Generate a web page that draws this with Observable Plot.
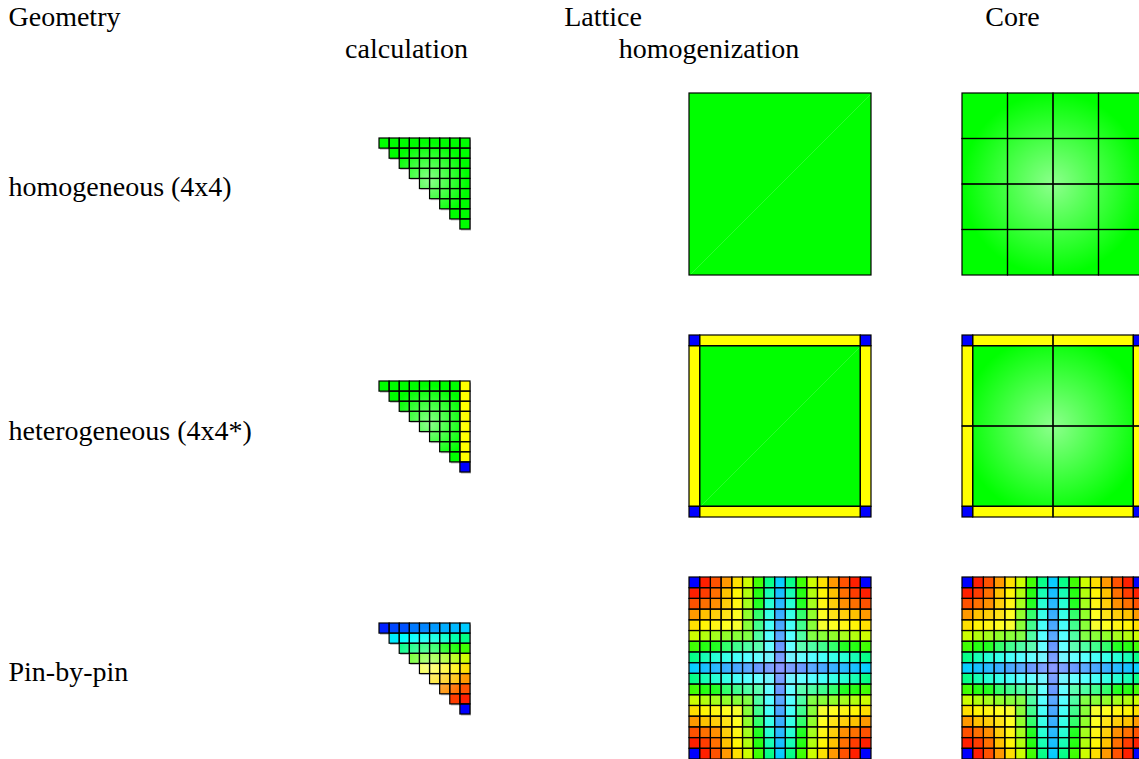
<!DOCTYPE html>
<html>
<head>
<meta charset="utf-8">
<script src="https://cdn.jsdelivr.net/npm/d3@7"></script>
<script src="https://cdn.jsdelivr.net/npm/@observablehq/plot@0.6"></script>
<style>
  html, body { margin: 0; padding: 0; background: white; }
  svg text { font-family: "Liberation Serif", "Times New Roman", "DejaVu Serif", serif; }
</style>
</head>
<body>
<div id="chart"></div>
<script>
// ---------------- DATA ----------------
const columnHeaders = ["Geometry", "Lattice", "Core"];
const subHeaders = ["calculation", "homogenization"];
const rowLabels = ["homogeneous (4x4)", "heterogeneous (4x4*)", "Pin-by-pin"];

// 1/8-assembly triangles (row r holds columns r..8); value on a blue→cyan→green→yellow→red scale, 0 = corner (blue)
const homogeneousTriangle = [
  [0.5, 0.5, 0.5, 0.5, 0.5, 0.5, 0.5, 0.5, 0.5],
  [0.5, 0.5, 0.5, 0.5, 0.5, 0.5, 0.5, 0.5],
  [0.5, 0.5, 0.5, 0.5, 0.5, 0.5, 0.5],
  [0.5, 0.5, 0.5, 0.5, 0.5, 0.5],
  [0.5, 0.5, 0.5, 0.5, 0.5],
  [0.5, 0.5, 0.5, 0.5],
  [0.5, 0.5, 0.5],
  [0.5, 0.5],
  [0.5]
];
const heterogeneousTriangle = [
  [0.5, 0.5, 0.5, 0.5, 0.5, 0.5, 0.5, 0.5, 0.75],
  [0.5, 0.5, 0.5, 0.5, 0.5, 0.5, 0.5, 0.75],
  [0.5, 0.5, 0.5, 0.5, 0.5, 0.5, 0.75],
  [0.5, 0.5, 0.5, 0.5, 0.5, 0.75],
  [0.5, 0.5, 0.5, 0.5, 0.75],
  [0.5, 0.5, 0.5, 0.75],
  [0.5, 0.5, 0.75],
  [0.5, 0.75],
  [0]
];
const pinByPinTriangle = [
  [0.03, 0.07, 0.08, 0.12, 0.13, 0.15, 0.17, 0.18, 0.20],
  [0.23, 0.25, 0.25, 0.26, 0.28, 0.30, 0.33, 0.37],
  [0.37, 0.38, 0.40, 0.43, 0.50, 0.52, 0.56],
  [0.58, 0.60, 0.62, 0.65, 0.67, 0.70],
  [0.74, 0.75, 0.76, 0.76, 0.78],
  [0.78, 0.80, 0.81, 0.85],
  [0.86, 0.89, 0.92],
  [0.94, 0.97],
  [0]
];

// block layouts: zone values and zone widths in pin pitches
const homogeneousLatticeZones = [[0.5]];
const homogeneousLatticeSizes = [17];
const heterogeneousLatticeZones = [
  [0, 0.75, 0],
  [0.75, 0.5, 0.75],
  [0, 0.75, 0]
];
const heterogeneousLatticeSizes = [1, 15, 1];
const homogeneousCoreZones = [
  [0.5, 0.5, 0.5, 0.5],
  [0.5, 0.5, 0.5, 0.5],
  [0.5, 0.5, 0.5, 0.5],
  [0.5, 0.5, 0.5, 0.5]
];
const homogeneousCoreSizes = [4.25, 4.25, 4.25, 4.25];
const heterogeneousCoreZones = [
  [0, 0.75, 0.75, 0],
  [0.75, 0.5, 0.5, 0.75],
  [0.75, 0.5, 0.5, 0.75],
  [0, 0.75, 0.75, 0]
];
const heterogeneousCoreSizes = [1, 7.5, 7.5, 1];

const colorStops = [0, 0.25, 0.5, 0.75, 1];
const colorRange = ["#0000ff", "#00ffff", "#00ff00", "#ffff00", "#ff0000"];

// ---------------- LAYOUT ----------------
const W = 1139, H = 759;
const blockTop = [93, 335, 577];
const triTop = [138, 381, 623];
const triLeft = 379, triPitch = 91 / 9;
const latticeLeft = 689, coreLeft = 962, blockSize = 182;
const pinPitch = blockSize / 17;
const fontSize = 28;
const fontFamily = "Liberation Serif";

function triangleCells(tri, top) {
  const out = [];
  tri.forEach((row, r) => row.forEach((v, k) => {
    const c = r + k;
    out.push({x1: triLeft + c * triPitch, x2: triLeft + (c + 1) * triPitch,
              y1: top + r * triPitch, y2: top + (r + 1) * triPitch, v});
  }));
  return out;
}
function zoneCells(zones, sizes, left, top) {
  const off = [0];
  sizes.forEach(s => off.push(off[off.length - 1] + s));
  const out = [];
  zones.forEach((row, i) => row.forEach((v, j) => {
    out.push({x1: left + off[j] * pinPitch, x2: left + off[j + 1] * pinPitch,
              y1: top + off[i] * pinPitch, y2: top + off[i + 1] * pinPitch, v});
  }));
  return out;
}
function pinCells(tri, left, top) {
  const out = [];
  for (let i = 0; i < 17; i++) for (let j = 0; j < 17; j++) {
    const di = Math.min(i, 16 - i), dj = Math.min(j, 16 - j);
    const r = 8 - Math.max(di, dj), c = 8 - Math.min(di, dj);
    out.push({x1: left + j * pinPitch, x2: left + (j + 1) * pinPitch,
              y1: top + i * pinPitch, y2: top + (i + 1) * pinPitch, v: tri[r][c - r]});
  }
  return out;
}

const triCells = [
  ...triangleCells(homogeneousTriangle, triTop[0]),
  ...triangleCells(heterogeneousTriangle, triTop[1]),
  ...triangleCells(pinByPinTriangle, triTop[2])
];
const blockCells = [
  ...zoneCells(homogeneousLatticeZones, homogeneousLatticeSizes, latticeLeft, blockTop[0]),
  ...zoneCells(heterogeneousLatticeZones, heterogeneousLatticeSizes, latticeLeft, blockTop[1]),
  ...pinCells(pinByPinTriangle, latticeLeft, blockTop[2]),
  ...zoneCells(homogeneousCoreZones, homogeneousCoreSizes, coreLeft, blockTop[0]),
  ...zoneCells(heterogeneousCoreZones, heterogeneousCoreSizes, coreLeft, blockTop[1]),
  ...pinCells(pinByPinTriangle, coreLeft, blockTop[2])
];
const triGlow = triTop.map(t => ({x1: triLeft, x2: triLeft + 9 * triPitch, y1: t, y2: t + 9 * triPitch}));
const blockGlow = [
  {x1: latticeLeft, x2: latticeLeft + blockSize, y1: blockTop[2], y2: blockTop[2] + blockSize},
  ...blockTop.map(t => ({x1: coreLeft, x2: coreLeft + blockSize, y1: t, y2: t + blockSize}))
];
// faint diagonals across the flat green lattice regions
const diagonals = [
  {x1: latticeLeft, y1: blockTop[0] + blockSize, x2: latticeLeft + blockSize, y2: blockTop[0]},
  {x1: latticeLeft + pinPitch, y1: blockTop[1] + blockSize - pinPitch, x2: latticeLeft + blockSize - pinPitch, y2: blockTop[1] + pinPitch}
];

const leftText = [
  {x: 8, y: 16.5, t: columnHeaders[0]},
  ...rowLabels.map((t, k) => ({x: 8, y: [186.5, 430.5, 672][k], t}))
];
const centerText = [
  {x: 602.5, y: 16.5, t: columnHeaders[1]},
  {x: 1012, y: 16.5, t: columnHeaders[2]},
  {x: 406, y: 48.5, t: subHeaders[0]},
  {x: 708.5, y: 48.5, t: subHeaders[1]}
];

const pos = {x1: "x1", x2: "x2", y1: "y1", y2: "y2"};

const svg = Plot.plot({
  width: W, height: H, margin: 0,
  x: {domain: [0, W], range: [0, W], axis: null},
  y: {domain: [0, H], range: [0, H], axis: null},
  color: {type: "linear", domain: colorStops, range: colorRange, interpolate: "rgb"},
  style: {background: "white", overflow: "hidden"},
  marks: [
    Plot.rect(triCells, {...pos, fill: "#000", fillOpacity: 0.3, dx: 1, dy: 1.5}),
    Plot.rect(triCells, {...pos, fill: "v"}),
    Plot.rect(blockCells, {...pos, fill: "v"}),
    Plot.link(diagonals, {x1: "x1", y1: "y1", x2: "x2", y2: "y2", stroke: "#88ff88", strokeOpacity: 0.6, strokeWidth: 0.5}),
    Plot.rect(triGlow, {...pos, fill: "url(#glowTri)"}),
    Plot.rect(blockGlow, {...pos, fill: "url(#glowBlock)"}),
    Plot.rect(triCells, {...pos, fill: "none", stroke: "black", strokeWidth: 1.2}),
    Plot.rect(blockCells, {...pos, fill: "none", stroke: "black", strokeWidth: 1.2}),
    Plot.text(leftText, {x: "x", y: "y", text: "t", textAnchor: "start", fontSize, fontFamily, fill: "black"}),
    Plot.text(centerText, {x: "x", y: "y", text: "t", textAnchor: "middle", fontSize, fontFamily, fill: "black"})
  ]
});

const defs = d3.select(svg).insert("defs", ":first-child");
function glow(id, cx, cy, r, op) {
  const g = defs.append("radialGradient").attr("id", id)
    .attr("cx", cx).attr("cy", cy).attr("r", r);
  g.append("stop").attr("offset", "0%").attr("stop-color", "white").attr("stop-opacity", op);
  g.append("stop").attr("offset", "100%").attr("stop-color", "white").attr("stop-opacity", 0);
}
glow("glowTri", "0.55", "0.47", "0.42", 0.55);
glow("glowBlock", "0.5", "0.5", "0.5", 0.55);

document.getElementById("chart").appendChild(svg);
</script>
</body>
</html>
